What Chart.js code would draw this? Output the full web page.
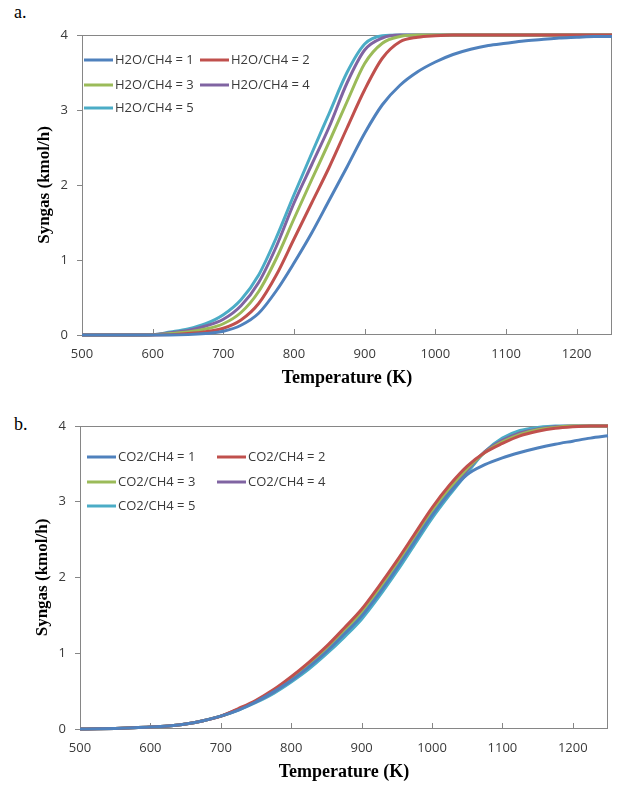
<!DOCTYPE html>
<html>
<head>
<meta charset="utf-8">
<script src="https://cdn.jsdelivr.net/npm/chart.js@4.4.1/dist/chart.umd.min.js"></script>
<style>
  body { margin: 0; background: #fff; }
  #page { position: relative; width: 622px; height: 787px; background: #fff; }
  .panel { position: absolute; left: 0; width: 622px; }
  .tag { position: absolute; left: 14px; font: 18px "Liberation Serif", "Times New Roman", serif; color: #000; }
</style>
</head>
<body>
<div id="page">
  <div class="tag" style="top:2px">a.</div>
  <div class="panel" style="top:0"><canvas id="chartA" width="622" height="393"></canvas></div>
  <div class="tag" style="top:414px">b.</div>
  <div class="panel" style="top:393px"><canvas id="chartB" width="622" height="394"></canvas></div>
</div>
<script>
// temperature grid (K), shared by both panels
const temps = [500, 525, 550, 575, 600, 625, 650, 675, 700, 725, 750, 775, 800, 825, 850, 875,
  900, 925, 950, 975, 1000, 1025, 1050, 1075, 1100, 1125, 1150, 1175, 1200, 1225, 1250];

// panel a - steam reforming, syngas (kmol/h)
const h2oLabels = ['H2O/CH4 = 1', 'H2O/CH4 = 2', 'H2O/CH4 = 3', 'H2O/CH4 = 4', 'H2O/CH4 = 5'];
const h2o1 = [0, 0, 0, 0, 0, 0, 0.005, 0.02, 0.05, 0.13, 0.29, 0.59, 0.96, 1.36, 1.8, 2.24,
  2.69, 3.07, 3.33, 3.51, 3.64, 3.74, 3.81, 3.86, 3.89, 3.92, 3.94, 3.96, 3.97, 3.98, 3.98];
const h2o2 = [0, 0, 0, 0, 0, 0.005, 0.02, 0.045, 0.09, 0.2, 0.42, 0.8, 1.28, 1.76, 2.24, 2.76,
  3.27, 3.69, 3.91, 3.97, 3.99, 4, 4, 4, 4, 4, 4, 4, 4, 4, 4];
const h2o3 = [0, 0, 0, 0, 0.003, 0.02, 0.04, 0.08, 0.15, 0.3, 0.58, 1.02, 1.55, 2.07, 2.58, 3.11,
  3.62, 3.89, 3.98, 4, 4, 4, 4, 4, 4, 4, 4, 4, 4, 4, 4];
const h2o4 = [0, 0, 0, 0, 0.005, 0.03, 0.06, 0.12, 0.21, 0.39, 0.7, 1.18, 1.76, 2.27, 2.78, 3.36,
  3.8, 3.96, 4, 4, 4, 4, 4, 4, 4, 4, 4, 4, 4, 4, 4];
const h2o5 = [0, 0, 0, 0, 0.005, 0.04, 0.08, 0.15, 0.27, 0.47, 0.8, 1.3, 1.87, 2.42, 2.96, 3.5,
  3.88, 3.99, 4, 4, 4, 4, 4, 4, 4, 4, 4, 4, 4, 4, 4];

// panel b - dry reforming, syngas (kmol/h)
const co2Labels = ['CO2/CH4 = 1', 'CO2/CH4 = 2', 'CO2/CH4 = 3', 'CO2/CH4 = 4', 'CO2/CH4 = 5'];
const co21 = [0, 0.003, 0.008, 0.015, 0.025, 0.04, 0.065, 0.11, 0.17, 0.25, 0.36, 0.49, 0.64, 0.82, 1.02, 1.25,
  1.49, 1.79, 2.12, 2.47, 2.82, 3.12, 3.36, 3.49, 3.58, 3.65, 3.71, 3.76, 3.8, 3.84, 3.87];
const co22 = [0, 0.003, 0.008, 0.015, 0.025, 0.04, 0.065, 0.11, 0.17, 0.27, 0.38, 0.52, 0.69, 0.88, 1.09, 1.33,
  1.58, 1.89, 2.22, 2.57, 2.92, 3.22, 3.47, 3.65, 3.77, 3.87, 3.93, 3.97, 3.99, 4, 4];
const co23 = [0, 0.003, 0.008, 0.015, 0.025, 0.04, 0.065, 0.11, 0.17, 0.26, 0.37, 0.5, 0.67, 0.85, 1.05, 1.29,
  1.54, 1.84, 2.17, 2.52, 2.87, 3.18, 3.44, 3.65, 3.79, 3.89, 3.95, 3.98, 4, 4, 4];
const co24 = [0, 0.003, 0.008, 0.015, 0.025, 0.04, 0.065, 0.11, 0.17, 0.26, 0.36, 0.49, 0.65, 0.83, 1.03, 1.26,
  1.51, 1.81, 2.14, 2.49, 2.84, 3.15, 3.42, 3.66, 3.81, 3.91, 3.96, 3.99, 4, 4, 4];
const co25 = [0, 0.003, 0.008, 0.015, 0.025, 0.04, 0.065, 0.11, 0.17, 0.25, 0.35, 0.47, 0.62, 0.79, 0.99, 1.21,
  1.45, 1.75, 2.08, 2.43, 2.78, 3.09, 3.38, 3.66, 3.84, 3.94, 3.98, 4, 4, 4, 4];

// axis ticks
const xTicks = [500, 600, 700, 800, 900, 1000, 1100, 1200];
const yTicks = [0, 1, 2, 3, 4];

const colors = ['#4F81BD', '#C0504D', '#9BBB59', '#8064A2', '#4BACC6'];
const tickFont = { family: '"Open Sans", "Noto Sans", sans-serif', size: 13 };
const titleFont = { family: '"Liberation Serif", "Times New Roman", serif', weight: 'bold' };

// plot-area frame + inward x tick marks (Excel style)
const frame = {
  id: 'frame',
  beforeDatasetsDraw(chart) {
    const { ctx, chartArea: a, scales } = chart;
    ctx.save();
    ctx.strokeStyle = '#868686';
    ctx.lineWidth = 1;
    ctx.strokeRect(Math.round(a.left) + 0.5, Math.round(a.top) + 0.5,
      Math.round(a.right - a.left) - 1, Math.round(a.bottom - a.top) - 1);
    ctx.beginPath();
    scales.x.ticks.forEach(t => {
      const px = Math.round(scales.x.getPixelForValue(t.value)) + 0.5;
      ctx.moveTo(px, a.bottom);
      ctx.lineTo(px, a.bottom - 6);
    });
    ctx.stroke();
    ctx.restore();
  }
};

// legend drawn inside the plot, two columns
const inLegend = {
  id: 'inLegend',
  afterDatasetsDraw(chart, args, opts) {
    const { ctx, chartArea: a } = chart;
    ctx.save();
    ctx.font = '13px "Open Sans", "Noto Sans", sans-serif';
    ctx.textBaseline = 'middle';
    chart.data.datasets.forEach((ds, i) => {
      const x = a.left + opts.cols[i % 2];
      const y = a.top + opts.rows[Math.floor(i / 2)];
      ctx.strokeStyle = ds.borderColor;
      ctx.lineWidth = 3;
      ctx.beginPath();
      ctx.moveTo(x, y);
      ctx.lineTo(x + 29, y);
      ctx.stroke();
      ctx.fillStyle = '#3a3a3a';
      ctx.fillText(ds.label, x + 31, y);
    });
    ctx.restore();
  }
};

function makeChart(id, labels, series, pad, legendPos) {
  const datasets = series.map((s, i) => ({
    label: labels[i],
    data: temps.map((t, j) => ({ x: t, y: s[j] })),
    borderColor: colors[i],
    backgroundColor: colors[i],
    borderWidth: 3,
    pointRadius: 0,
    cubicInterpolationMode: 'monotone',
    clip: 4
  }));
  return new Chart(document.getElementById(id), {
    type: 'line',
    data: { datasets },
    plugins: [frame, inLegend],
    options: {
      responsive: false,
      animation: false,
      devicePixelRatio: 1,
      layout: { padding: pad },
      plugins: {
        legend: { display: false },
        tooltip: { enabled: false },
        inLegend: legendPos
      },
      scales: {
        x: {
          type: 'linear',
          min: 500,
          max: 1250,
          afterBuildTicks: sc => { sc.ticks = xTicks.map(v => ({ value: v })); },
          afterFit: sc => { sc.height = 58; },
          grid: { display: false },
          border: { display: false },
          ticks: { font: tickFont, color: '#3a3a3a', padding: 3, maxRotation: 0,
            callback: v => String(v) },
          title: { display: true, text: 'Temperature (K)', color: '#000',
            font: Object.assign({ size: 18 }, titleFont), padding: { top: 0, bottom: 4 } }
        },
        y: {
          min: 0,
          max: 4,
          afterBuildTicks: sc => { sc.ticks = yTicks.map(v => ({ value: v })); },
          afterFit: sc => { sc.width = 48; },
          grid: { drawOnChartArea: false, drawTicks: true, tickLength: 5, color: '#868686' },
          border: { display: false },
          ticks: { font: tickFont, color: '#3a3a3a', padding: 9, callback: v => String(v) },
          title: { display: true, text: 'Syngas (kmol/h)', color: '#000',
            font: Object.assign({ size: 17 }, titleFont), padding: 0 }
        }
      }
    }
  });
}

makeChart('chartA', h2oLabels, [h2o1, h2o2, h2o3, h2o4, h2o5],
  { left: 34, right: 10, top: 35, bottom: 0 },
  { cols: [2, 118], rows: [25, 50, 73] });

makeChart('chartB', co2Labels, [co21, co22, co23, co24, co25],
  { left: 32, right: 14, top: 33, bottom: 0 },
  { cols: [7, 137], rows: [31, 56, 80] });
</script>
</body>
</html>
